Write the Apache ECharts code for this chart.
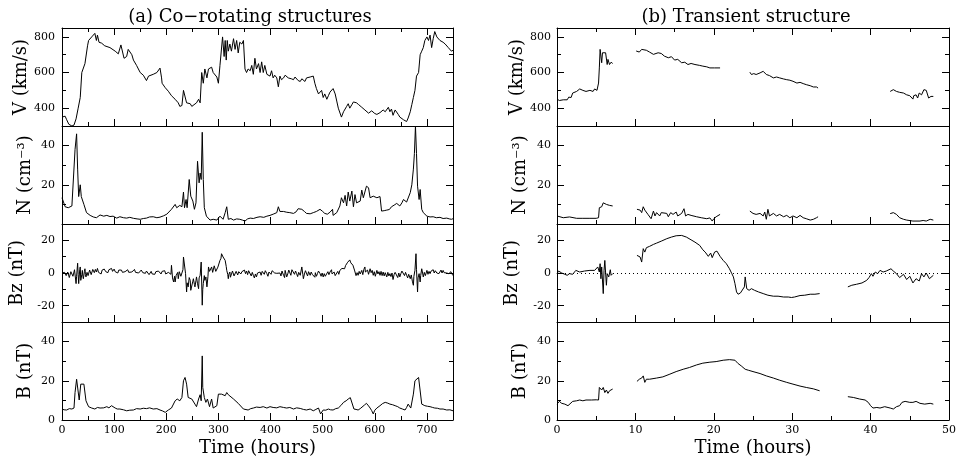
<!DOCTYPE html>
<html>
<head>
<meta charset="utf-8">
<script src="https://cdn.jsdelivr.net/npm/echarts@6/dist/echarts.min.js"></script>
<style>
html, body { margin: 0; padding: 0; background: #fff; }
#chart { width: 961px; height: 462px; }
</style>
</head>
<body>
<div id="chart"></div>
<script>
// (a) co-rotating structures, [hour, value]
const aV = [[0,350],[6,355],[9,335],[13,310],[19,300],[23,305],[27,340],[31,400],[35,460],[38,600],[41,590],[44,650],[49,750],[51,780],[54,770],[57,800],[60,790],[63,820],[66,780],[68,810],[71,770],[76,765],[82,750],[92,740],[102,720],[108,705],[111,715],[113,755],[116,750],[119,680],[124,690],[127,730],[129,720],[134,700],[137,670],[143,640],[150,600],[156,585],[162,555],[166,580],[169,570],[175,590],[182,600],[188,625],[191,570],[192,540],[198,515],[201,520],[204,495],[210,470],[217,450],[223,430],[226,410],[230,415],[233,500],[236,495],[239,430],[242,420],[246,425],[249,410],[252,405],[258,430],[262,450],[265,430],[268,600],[271,540],[274,620],[278,570],[281,620],[284,610],[287,630],[290,600],[293,610],[297,575],[300,540],[303,640],[306,650],[308,800],[311,690],[313,780],[315,670],[317,780],[319,720],[322,760],[325,720],[329,790],[332,730],[335,780],[338,710],[341,770],[345,760],[348,780],[351,620],[354,600],[357,620],[361,610],[364,640],[367,590],[370,680],[373,620],[377,650],[380,600],[383,660],[386,600],[389,640],[393,590],[396,600],[399,580],[402,610],[405,570],[408,585],[412,570],[415,520],[418,580],[421,560],[425,570],[428,585],[431,590],[434,570],[437,580],[440,565],[444,560],[447,575],[450,565],[453,555],[457,550],[460,565],[463,560],[466,550],[469,570],[472,565],[476,575],[479,570],[482,580],[485,540],[488,510],[492,480],[495,470],[498,500],[501,460],[504,480],[508,450],[511,470],[514,490],[517,500],[520,510],[524,480],[527,440],[530,400],[533,390],[536,350],[540,380],[543,390],[546,410],[549,425],[552,400],[556,420],[559,435],[562,425],[565,430],[569,420],[572,415],[575,405],[578,400],[581,390],[584,380],[588,372],[591,370],[594,385],[597,380],[600,370],[604,365],[607,372],[610,375],[613,368],[616,390],[620,380],[623,375],[626,405],[629,380],[632,395],[635,360],[639,390],[642,395],[645,365],[648,350],[651,345],[655,335],[658,345],[661,325],[664,345],[668,380],[671,420],[674,460],[677,500],[680,580],[684,600],[687,700],[690,720],[693,740],[696,780],[700,800],[703,780],[706,810],[709,740],[712,790],[715,830],[719,800],[722,790],[725,780],[728,790],[731,770],[735,760],[738,765],[741,740],[744,730],[747,720],[750,725]];
const aN = [[0,13.4],[3,12.5],[6,8.8],[12,8.3],[19,9.2],[22,10],[25,38],[28,46],[30,28],[32,14],[35,20],[37,14],[40,15],[42,10],[47,5.8],[54,4.4],[60,3.6],[66,3.2],[73,4.6],[80,4],[86,4.4],[92,3.8],[98,4],[105,3],[111,3.7],[118,3.2],[124,3],[130,3.4],[137,2.9],[144,2.6],[150,2.4],[156,2.8],[162,3],[168,3.6],[175,3.7],[182,3.2],[188,3.5],[195,4.2],[201,5],[210,7.5],[217,10],[220,8.3],[226,9.5],[230,8.8],[233,16.3],[235,8.3],[238,12.5],[240,8.3],[244,22.7],[247,14.2],[251,11.7],[254,7.5],[257,10.8],[260,32],[263,21],[265,26],[267,22.7],[269,46.8],[271,22.7],[273,8.3],[277,4],[284,2],[290,2.4],[297,2],[303,4],[306,5],[309,2.4],[313,5.8],[316,8.8],[319,2.4],[324,2.8],[329,2],[335,2.6],[341,2.4],[346,2],[351,1.5],[356,2.6],[361,3],[367,2.8],[374,3.4],[380,3.7],[387,3.4],[393,4],[399,4.4],[405,5],[412,5.8],[415,8.8],[418,6.4],[425,6.4],[431,6],[437,5.8],[444,5.4],[449,6.2],[453,7.8],[460,7.5],[465,6.4],[469,5.4],[476,5.2],[482,5.8],[488,6.4],[495,7.5],[500,6.4],[504,5.4],[509,5],[514,6],[519,7.5],[520,4.4],[527,5.8],[533,9.2],[536,13.4],[540,10.8],[543,14.6],[546,9.2],[549,16.3],[552,11.7],[556,16.8],[559,8.8],[562,15],[565,10.8],[572,11.7],[575,17.3],[578,13.4],[584,19.3],[588,18.5],[591,13.4],[597,14.2],[604,13.4],[610,14],[613,6.6],[618,6.8],[623,7.1],[628,7.4],[632,8.8],[637,9.6],[642,10.5],[648,9.2],[652,10.8],[655,12.5],[661,11.2],[668,16],[671,20],[674,28],[676,36],[678,50],[680,36],[682,19.3],[685,12.5],[687,17.6],[690,7.5],[693,5.8],[700,4],[706,3.6],[712,3.7],[718,3.2],[725,3.4],[731,2.8],[738,3],[743,2.6],[747,2.4],[750,2.7]];
const aBz = [[0,0],[2,-1.2],[3,-1],[5,0.4],[6,-0.5],[8,-1.6],[9,-2],[11,0.6],[12,0],[14,-2.8],[15,-2.4],[17,0.8],[19,0],[21,-2],[22,-3],[24,2],[25,1.6],[27,-6.5],[28,-2],[30,6],[31,-1],[32,-6.5],[34,2],[35,3.7],[36,-4.5],[38,-1],[39,1.6],[40,-2],[41,-3.5],[43,1],[44,2.6],[45,-1],[46,-2.4],[48,0.4],[49,1.6],[50,-1.6],[51,-1.4],[53,1.8],[54,2],[56,-1],[57,-0.4],[59,2.2],
  [60,1.6],[62,0.2],[64,2.2],[66,0.6],[68,2.8],[70,0.4],[73,1.6],[75,-0.6],[77,1.8],[79,0.6],[81,2.4],[84,0.8],[86,1.6],[88,0.2],[90,2],[92,1],[95,2.8],[97,1],[98,1.2],[100,2.4],[102,0.8],[105,1.6],[107,0],[109,1.8],[111,0.6],[114,1.8],[116,0.4],[118,1.6],[121,0.8],[124,1],[126,2],[128,0.4],[131,1.6],[134,0.6],[137,1.2],[139,2.2],[141,0.4],[144,1.4],[147,0],[150,0.6],[152,1.8],[155,0.2],[158,1.4],[160,-0.2],[162,1.2],[165,0.2],[167,-1],[169,-0.4],[171,1],[173,-0.6],[175,0.6],[178,-0.8],[180,0.8],[182,0],[185,1.2],[188,0.6],[190,-0.6],[192,1],[194,0],[197,1.4],[199,-0.6],
  [201,0.6],[204,0.4],[207,1.6],[209,-0.8],[210,4.7],[212,-3],[214,-5.5],[216,-2],[217,-5.5],[219,-1.4],[220,-2.4],[222,0.4],[223,-3.5],[225,0.8],[226,1.6],[228,-2],[230,-1.4],[232,2],[233,9.8],[235,10.8],[237,-0.4],[239,-11.6],[240,-6],[242,-8.5],[244,-2.8],[246,-4.5],[247,-10.6],[249,-9.6],[251,-5],[252,-3.5],[254,-7],[255,-8.5],[257,-4.6],[258,-2.4],[260,-6.6],[262,-9.6],[263,-3],[265,-1.4],[267,6.7],[269,-19.7],[270,-10],[271,-6.5],[273,-1.6],[274,-4.5],[276,-2.4],[278,-8.5],[280,-2],[281,3.7],[283,1],[284,0.6],[286,2],[287,3.7],[289,0.4],[290,1.6],[292,4.4],[293,3.7],[295,1],[297,2],[299,3.6],[300,4.7],[302,3],[303,7.7],[305,9],[306,11.8],[308,12.8],[309,9.8],[311,10.4],[313,7.7],[315,4],[316,1.6],[318,-1],
  [319,-3.5],[320,-0.8],[322,0.6],[323,-2.6],[325,-1.4],[327,1.2],[329,1.6],[330,-1.8],[332,-2.4],[334,1],[335,0.6],[337,-1.2],[339,0.8],[341,1.6],[343,-0.6],[345,0.8],[348,0],[350,1.8],[352,-0.4],[354,1.2],[356,-1],[358,1.4],[361,0.6],[363,-1.8],[365,0.4],[367,-1.4],[369,-3],[371,-0.6],[373,-2.4],[375,0],[378,-1.2],[380,0.6],[382,-1.4],[384,1],[386,2],[388,-0.8],[390,1.4],[393,-0.4],[395,-2],[397,0.6],[399,1.6],[401,-0.8],[403,1.4],[405,0.6],[408,0],[410,0.2],[412,-0.2],[415,0.2],[418,0],[420,-1.8],[422,1.2],[425,-1.4],[427,-2.8],[428,1.6],[430,0.4],[431,-2.4],[433,-0.6],[435,1.8],[437,0.6],[439,-1.4],[441,2],[444,1.6],[446,-0.8],[448,1.2],[450,-0.4],[452,-2.2],[454,0.4],[457,-1.4],[458,-0.2],[460,3.7],[462,-1],[463,-3.5],[465,-0.6],[467,1.4],[469,0.6],[471,-1.8],[473,0.8],[476,-1.4],[478,0.6],[480,-0.8],[482,0],[485,-2.6],[486,0.2],[488,-2],[490,-0.4],[492,1.2],[495,-0.4],[497,-2],[499,0],[501,-2.4],[503,-0.4],[505,-2],[508,-1.4],[510,0.8],[512,-1],[514,0.6],[517,2],[518,-0.6],[520,-1.4],[522,0.6],[524,-1.6],[527,-0.4],[529,1],[531,-0.8],[533,1.6],[535,0.6],[537,2.8],[540,3.7],[542,2.6],[544,4.6],[546,5.7],[548,6.6],[550,5.8],[552,8],[554,6.2],[556,5.7],[558,4.8],[559,3.7],[561,1.8],
  [562,0.6],[564,-1.6],[566,0.2],[568,-1.4],[570,1],[572,-0.6],[575,1.6],[577,-1],[579,2.2],[581,3.7],[582,0.6],[584,-0.4],[586,1.8],[588,-0.8],[591,2.6],[593,0.2],[595,1.6],[597,-1.4],[599,0.8],[601,-2],[604,1.6],[606,-0.6],[608,0.8],[610,-1.4],[612,1],[614,-1.6],[616,0.6],[618,-1.8],[620,0.2],[623,-2.4],[625,0.4],[627,-1.8],[629,-0.4],[631,-2.2],[633,0],[635,-4],[637,-1],[639,0.4],[642,-0.4],[644,-2.8],[646,0],[648,-2.4],[650,-0.4],[652,1.2],[655,0.6],[657,-1.6],[659,0.4],[661,-1.4],[663,-3],[665,-0.8],[668,-3.5],[670,-1.2],[672,-5],[674,-7.5],[675,-2],[677,1.6],[679,11.8],[680,2],[682,-11.6],[683,-3],[685,-0.4],[687,-5.5],[688,-1.6],[690,2.6],[692,-0.6],[693,-2.4],[695,0.4],[697,-1.6],[700,1.6],[702,-0.8],[704,1],[706,-0.4],[708,1.2],[710,0.2],[712,2],[714,0],[716,1.4],[719,0],[721,1.2],[723,-0.4],[725,0.6],[727,1.8],[729,0],[731,1.6],[733,0.2],[735,1.2],[738,0],[740,1],[742,-0.4],[744,0.6],[746,0.8],[748,-0.8],[750,-1.4]];
const aB = [[0,5.6],[4,5.2],[9,5.1],[14,5.8],[19,5.6],[23,6.1],[25,14],[28,20.8],[30,20],[33,10.2],[36,18.3],[39,17.5],[42,18.3],[46,9.8],[51,6.8],[54,6],[57,6.1],[60,5.4],[63,5.6],[68,6.4],[73,6.1],[80,6.2],[86,6.8],[90,6.2],[95,7.3],[102,6.1],[106,5.6],[111,5.6],[118,5.2],[124,4.7],[130,5],[137,5.1],[143,5.8],[150,5.6],[156,6],[162,5.8],[168,6.2],[175,5.6],[182,5.8],[188,5.1],[193,4.6],[198,3.9],[204,5.1],[210,6.1],[217,9.8],[221,10.7],[226,9.8],[230,11.5],[233,20],[236,21.7],[239,18.3],[242,11.5],[249,10.7],[255,8.1],[258,6.8],[262,10.7],[265,12.9],[267,9.8],[269,32.7],[270,16.6],[273,11.5],[276,9],[279,10.7],[283,6.8],[287,10.7],[290,6.1],[297,7.3],[300,13.2],[303,14],[306,13.2],[309,14],[313,12.4],[316,14],[319,12.9],[329,10.7],[338,8.5],[348,5.6],[357,5.1],[362,5.8],[367,6.1],[373,6.6],[380,6.4],[386,6.8],[393,6.1],[399,6.8],[405,6.4],[412,6.2],[418,6.8],[425,6.4],[431,6.1],[437,6.4],[444,5.6],[450,6.2],[457,5.9],[463,5.4],[469,5.1],[476,5.6],[482,4.7],[487,5.4],[492,6.1],[496,3.1],[501,5.1],[506,5],[511,5.6],[515,5.2],[520,5.1],[525,5.8],[530,6.1],[535,7.4],[540,9],[545,9.8],[549,10.7],[553,11.4],[556,11.2],[560,5.6],[564,5.4],[568,5.1],[572,5.8],[575,6.4],[580,7.6],[584,8.5],[588,7.2],[591,6.1],[594,4.8],[597,3.1],[600,5],[604,6.1],[610,7.3],[615,8.4],[620,9],[625,8.6],[629,8.1],[634,7.8],[639,7.3],[644,6.8],[648,6.1],[653,5.6],[658,5.1],[661,6.4],[664,8.1],[669,6.1],[674,13.2],[677,20],[680,20.8],[684,21.7],[687,20.8],[690,8.1],[696,7.3],[701,7],[706,6.8],[711,6.4],[715,6.1],[720,6],[725,5.6],[731,5.6],[738,5.1],[744,5.2],[750,4.7]];

// (b) transient structure, [hour, value]; null marks a data gap
const bV = [[0,451],[0.3,443],[0.8,447],[1.3,447],[1.5,462],[1.8,460],[2.0,485],[2.5,494],[2.9,508],[3.1,519],[3.3,500],[3.7,494],[4.2,500],[4.6,494],[4.8,508],[5.0,519],[5.1,500],[5.3,541],[5.4,626],[5.5,730],[5.7,655],[5.8,711],[6.0,721],[6.2,711],[6.4,645],[6.5,674],[6.7,645],[6.9,658],[7.1,651],
  [8.5,null],
  [10.1,721],[10.5,715],[10.8,730],[11.0,721],[11.4,725],[11.8,715],[12.3,702],[12.9,711],[13.3,707],[13.7,692],[14.2,683],[14.6,689],[15.0,670],[15.4,674],[15.9,655],[16.3,658],[16.7,645],[17.1,651],[17.6,645],[18.2,640],[18.6,636],[19.1,632],[19.5,626],[20.1,626],[20.8,626],
  [22.7,null],
  [24.6,602],[24.8,589],[25.1,594],[25.4,589],[25.9,598],[26.3,607],[26.7,589],[27.1,583],[27.6,570],[28.0,575],[28.4,570],[28.9,564],[29.3,560],[29.7,557],[30.1,551],[30.6,541],[31.0,545],[31.4,538],[31.8,532],[32.3,526],[32.7,519],[33.1,519],[33.3,513],
  [38,null],
  [42.5,494],[42.9,504],[43.3,494],[43.7,489],[44.2,485],[44.6,475],[45.0,470],[45.4,451],[45.5,470],[45.8,475],[46.0,457],[46.2,485],[46.5,475],[46.8,504],[47.1,500],[47.4,457],[47.7,466],[48.0,466]];
const bN = [[0,4.1],[0.8,3.2],[1.6,3.6],[2.5,2.9],[3.3,2.9],[4.2,2.9],[5.0,2.9],[5.3,3.2],[5.4,8.3],[5.7,8.8],[5.9,10.8],[6.1,10.5],[6.3,10],[6.5,10.8],[6.7,9.5],[6.9,10],[7.1,9.2],
  [8.5,null],
  [10.2,7.5],[10.6,7.1],[10.8,5.8],[11.0,8.8],[11.2,7.1],[11.6,4.9],[12.0,2.7],[12.3,6.6],[12.5,4.1],[12.7,5.8],[13.1,4.1],[13.3,5.8],[13.5,4.9],[14.0,5.4],[14.2,3.7],[14.5,5.8],[14.8,4.9],[15.2,6.1],[15.4,4.1],[15.9,5.4],[16.2,7.8],[16.4,4.1],[16.7,4.9],[17.1,4.4],[17.8,3.7],[18.4,3.2],[19.1,2.7],[19.5,3.1],[19.8,1.5],[20.0,2.7],[20.3,3.7],[20.8,4.9],
  [22.7,null],
  [24.6,6.6],[25.0,5.4],[25.4,4.9],[25.9,5.4],[26.3,4.1],[26.5,6.1],[26.7,2.4],[26.9,7.5],[27.1,4.1],[27.6,5.4],[28.0,4.1],[28.4,4.9],[28.9,3.7],[29.3,4.4],[29.7,3.2],[30.1,4.1],[30.6,3.2],[31.0,4.4],[31.4,3.2],[31.8,2.7],[32.3,2.0],[32.7,2.4],[33.1,3.2],[33.3,3.7],
  [38,null],
  [42.5,5.3],[42.9,5.8],[43.3,4.9],[43.7,3.2],[44.2,2.4],[44.6,2.0],[45.4,1.5],[46.3,1.5],[46.7,1.8],[47.1,1.5],[47.6,2.4],[48.0,2.0]];
const bBz = [[0,-0.4],[0.2,1.2],[0.6,0],[1.0,-0.8],[1.3,-1.4],[1.6,-0.4],[2.0,-0.8],[2.4,1.6],[2.9,0.6],[3.5,1.2],[4.2,1.6],[4.8,1.6],[5.2,3.7],[5.4,0.6],[5.5,5.7],[5.6,-3.5],[5.7,3.7],[5.9,-12.6],[6.0,1.6],[6.1,7.7],[6.3,-7.5],[6.4,-0.4],[6.6,-2.4],[6.8,2],[6.9,-1.4],[7.1,-0.4],
  [8.5,null],
  [10.2,10.8],[10.6,9.8],[10.8,6.7],[11.0,14.9],[11.2,12.8],[11.4,15.5],[11.8,16.3],[12.3,17.5],[12.7,18.3],[13.3,19.5],[14.0,21],[14.6,22],[15.2,22.8],[15.9,23],[16.5,22],[17.1,20.3],[17.6,18.9],[18.2,16.9],[18.6,14.2],[18.9,12.8],[19.3,10.2],[19.6,12.2],[19.8,9.4],[20.1,12.8],[20.4,13.4],[20.8,10.2],[21.2,7.7],[21.6,5.7],[22.0,2.6],[22.3,-0.4],[22.5,-2.4],[22.7,-6.5],[22.9,-11.6],[23.1,-13],[23.4,-12.2],[23.6,-13],[23.9,-8.5],[24.0,-2.4],[24.2,-9.6],[24.5,-10.6],[24.8,-9.6],[25.2,-10.6],[25.7,-11.6],[26.3,-12.6],[26.9,-13.6],[27.6,-14.2],[28.2,-14.2],[28.9,-14.7],[29.5,-14.7],[29.9,-15],[30.3,-14.7],[31.0,-13.8],[31.6,-13.6],[32.3,-13],[32.9,-13],[33.5,-12.6],
  [35.3,null],
  [37.1,-8.5],[37.6,-7.5],[38.2,-6.9],[38.9,-6.1],[39.5,-4.5],[39.8,-2.8],[40.1,-0.4],[40.3,-2],[40.6,0.6],[40.9,-0.4],[41.2,1.6],[41.6,0.6],[42.0,1.2],[42.6,2.6],[42.9,1.2],[43.3,-0.4],[43.7,-2.8],[44.2,-0.8],[44.6,-4],[45.0,-2],[45.4,-6.1],[45.8,-3.5],[46.2,-4.9],[46.5,-0.4],[46.8,-2.4],[47.1,0],[47.5,-3.5],[47.7,-4],[48.0,-1.4]];
const bB = [[0,8.1],[0.3,9.5],[0.6,8.5],[1.0,8.1],[1.4,7.3],[1.6,7.3],[2.0,9.5],[2.5,9.8],[2.9,10.2],[3.3,9.8],[3.7,10.2],[4.4,10.2],[5.0,10.3],[5.3,10.2],[5.4,16.6],[5.7,15.3],[5.9,16.6],[6.1,14],[6.3,15.3],[6.5,13.6],[6.7,14.9],[6.9,14.9],[7.1,15.8],
  [8.5,null],
  [10.2,19.7],[10.5,20.8],[10.8,21.4],[11.0,22.5],[11.2,19.2],[11.4,20.8],[11.8,20.8],[12.7,21.4],[13.5,22],[14.4,23.4],[15.2,24.7],[16.1,25.9],[16.9,26.8],[17.8,28.1],[18.6,29],[19.5,29.5],[20.3,29.8],[21.2,30.5],[22.0,30.8],[22.7,30.5],[23.1,28.8],[23.5,27.6],[24.0,25.9],[24.4,25.4],[25.0,24.7],[25.9,23.7],[26.7,22.5],[27.6,21.4],[28.4,20.3],[29.3,19.2],[30.1,18.3],[31.0,17.3],[31.8,16.6],[32.7,15.9],[33.5,14.9],
  [35.3,null],
  [37.1,11.9],[37.8,11.5],[38.6,10.7],[39.3,10.2],[39.7,9],[40.0,7.3],[40.3,6.1],[40.8,6.4],[41.2,6.1],[41.8,6.8],[42.5,6.1],[42.9,5.6],[43.3,6.8],[43.7,7.3],[44.0,9],[44.4,9.5],[45.0,9],[45.4,9],[45.8,9.5],[46.3,8.5],[46.9,8.1],[47.6,8.5],[48.0,8.1]];

// tick values
const aTickMajor = [100, 200, 300, 400, 500, 600, 700];
const aTickMinor = [50, 150, 250, 350, 450, 550, 650];
const aTickLabels = [0, 100, 200, 300, 400, 500, 600, 700];
const bTickMajor = [10, 20, 30, 40];
const bTickMinor = [5, 15, 25, 35, 45];
const bTickLabels = [0, 10, 20, 30, 40, 50];

const FONT = '"DejaVu Serif", "Liberation Serif", serif';
const INK = '#000';

const columns = [
  {left: 62, width: 391, max: 750, major: aTickMajor, minor: aTickMinor, labels: aTickLabels,
   title: '(a) Co\u2212rotating structures', titleX: 250, data: [aV, aN, aBz, aB], labelMargin: 7},
  {left: 557, width: 392, max: 50, major: bTickMajor, minor: bTickMinor, labels: bTickLabels,
   title: '(b) Transient structure', titleX: 746, data: [bV, bN, bBz, bB], labelMargin: 6}
];

const rows = [
  {name: 'V (km/s)', min: 300, max: 850, major: [400, 600, 800], minor: [500, 700], labels: [400, 600, 800], gap: 28},
  {name: 'N (cm\u207b\u00b3)', min: 0, max: 50, major: [20, 40], minor: [10, 30], labels: [20, 40], gap: 28},
  {name: 'Bz (nT)', min: -30, max: 30, major: [-20, 0, 20], minor: [-10, 10], labels: [-20, 0, 20], gap: 36},
  {name: 'B (nT)', min: 0, max: 50, major: [20, 40], minor: [10, 30], labels: [0, 20, 40], gap: 28}
];
const rowTop = [28, 126, 224, 322];
const rowH = 98;

const grids = [], xAxes = [], yAxes = [], series = [];

function axis(kind, gi, pos, min, max, ticks, len, showLine, labels) {
  return {
    type: 'value', gridIndex: gi, position: pos, min: min, max: max,
    axisLine: {show: showLine, onZero: false, lineStyle: {color: INK, width: 1}},
    axisTick: {show: true, inside: true, length: len, customValues: ticks, lineStyle: {color: INK, width: 1}},
    axisLabel: labels ? {show: true, customValues: labels, color: INK, fontFamily: FONT, fontSize: 11,
                         margin: kind === 'x' ? 5 : 7} : {show: false},
    splitLine: {show: false},
    minorTick: {show: false},
    silent: true
  };
}

columns.forEach((col, c) => {
  rows.forEach((row, r) => {
    const gi = grids.length;
    grids.push({left: col.left, top: rowTop[r], width: col.width, height: rowH});

    const xi = xAxes.length;
    const xMain = axis('x', gi, 'bottom', 0, col.max, col.major, 7, true, r === 3 ? col.labels : null);
    if (r === 3) {
      xMain.name = 'Time (hours)';
      xMain.nameLocation = 'middle';
      xMain.nameGap = 19;
      xMain.nameTextStyle = {color: INK, fontFamily: FONT, fontSize: 18};
    }
    xAxes.push(xMain);
    xAxes.push(axis('x', gi, 'bottom', 0, col.max, col.minor, 4, false, null));
    if (r === 0) {
      xAxes.push(axis('x', gi, 'top', 0, col.max, col.major, 7, true, null));
      xAxes.push(axis('x', gi, 'top', 0, col.max, col.minor, 4, false, null));
    }

    const yi = yAxes.length;
    const yMain = axis('y', gi, 'left', row.min, row.max, row.major, 7, true, row.labels);
    yMain.axisLabel.margin = col.labelMargin;
    yMain.name = row.name;
    yMain.nameLocation = 'middle';
    yMain.nameGap = row.gap;
    yMain.nameTextStyle = {color: INK, fontFamily: FONT, fontSize: 18};
    yAxes.push(yMain);
    yAxes.push(axis('y', gi, 'left', row.min, row.max, row.minor, 4, false, null));
    yAxes.push(axis('y', gi, 'right', row.min, row.max, row.major, 7, true, null));
    yAxes.push(axis('y', gi, 'right', row.min, row.max, row.minor, 4, false, null));

    const s = {
      type: 'line', xAxisIndex: xi, yAxisIndex: yi, data: col.data[r],
      showSymbol: false, symbol: 'none', silent: true, animation: false,
      lineStyle: {color: INK, width: 1}
    };
    if (c === 1 && r === 2) {
      s.markLine = {
        silent: true, symbol: 'none', animation: false, label: {show: false},
        lineStyle: {color: INK, width: 1, type: [1, 3]},
        data: [{yAxis: 0}]
      };
    }
    series.push(s);
  });
});

const chart = echarts.init(document.getElementById('chart'));
chart.setOption({
  animation: false,
  backgroundColor: '#fff',
  grid: grids,
  xAxis: xAxes,
  yAxis: yAxes,
  series: series,
  graphic: columns.map(col => ({
    type: 'text', x: col.titleX, y: 17, silent: true,
    style: {text: col.title, fill: INK, font: '18px ' + FONT, align: 'center', verticalAlign: 'middle'}
  }))
});
</script>
</body>
</html>
